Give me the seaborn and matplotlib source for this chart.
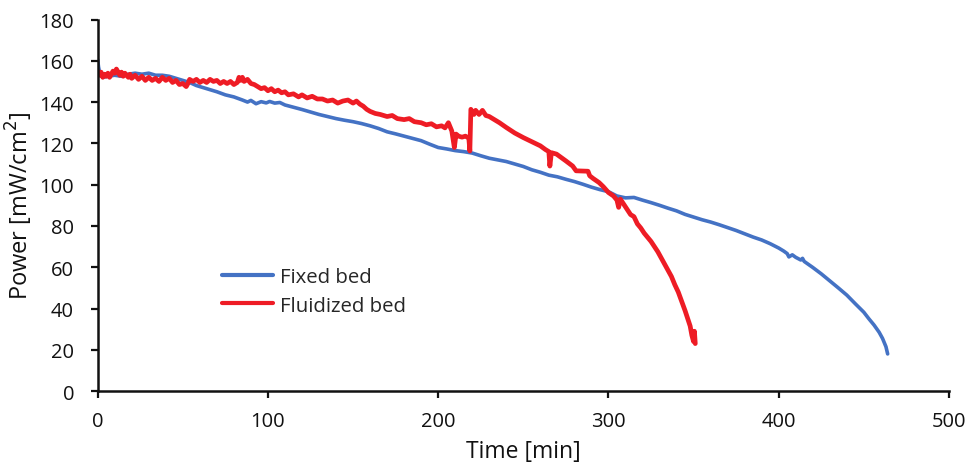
import numpy as np
import pandas as pd
import seaborn as sns
import matplotlib
matplotlib.use("Agg")
import matplotlib.pyplot as plt
from matplotlib.lines import Line2D

# Fixed bed power density over time
fixed_time = [0, 0.5, 1.5, 3, 6, 10, 14, 18, 22, 26, 30, 34, 38, 42, 46, 50, 54, 58, 62, 66,
              70, 75, 80, 85, 88, 90, 93, 96, 99, 101, 104, 107, 110, 115, 120, 125, 130, 135,
              140, 145, 150, 155, 160, 165, 170, 175, 180, 185, 190, 195, 200, 205, 210, 215,
              220, 225, 230, 235, 240, 245, 250, 255, 260, 265, 270, 275, 280, 285, 290, 295,
              300, 305, 310, 315, 320, 325, 330, 335, 340, 345, 350, 355, 360, 365, 370, 375,
              380, 385, 390, 395, 400, 403, 405, 406, 408, 410, 413, 414, 415, 420, 425, 430,
              435, 440, 445, 450, 453, 456, 459, 461, 463, 464]
fixed_power = [160.5, 157, 153, 152, 152.5, 153, 152.5, 153.5, 154, 153.5, 154, 153, 153, 152.5,
               151.5, 150.5, 149.5, 148, 147, 146, 145, 143.5, 142.5, 141, 140, 140.8, 139.2,
               140.2, 139.6, 140.3, 139.5, 139.8, 138.6, 137.5, 136.4, 135.2, 134, 133, 132,
               131.2, 130.5, 129.6, 128.5, 127.2, 125.6, 124.6, 123.5, 122.4, 121.3, 119.6, 118,
               117.3, 116.5, 116, 115.3, 114, 112.8, 112, 111.2, 110, 108.8, 107.2, 106, 104.6,
               103.8, 102.6, 101.5, 100.2, 98.8, 97.6, 96.6, 94.5, 93.6, 93.8, 92.5, 91.3, 90,
               88.6, 87.3, 85.6, 84.3, 83, 81.9, 80.6, 79.2, 77.8, 76.2, 74.6, 73.2, 71.4, 69.3,
               67.8, 66.6, 65, 66, 64.8, 63.5, 64.3, 62.8, 59.9, 56.8, 53.4, 50, 46.5, 42.3,
               38.2, 35, 32, 28.5, 25.5, 21.5, 18]

# Fluidized bed power density over time
fluid_time = [0, 1, 2, 3, 4, 5, 6, 7, 8, 9, 10, 11, 12, 13, 14, 15, 16, 17, 18, 19, 20, 22, 24,
              26, 28, 30, 32, 34, 36, 38, 40, 42, 44, 46, 48, 50, 52, 53, 54, 56, 58, 60, 62,
              64, 66, 68, 70, 72, 74, 76, 78, 80, 82, 83, 84, 85, 86, 88, 90, 92, 94, 96, 98,
              100, 102, 104, 106, 108, 110, 112, 115, 118, 120, 123, 126, 129, 132, 135, 138,
              141, 144, 147, 150, 152, 154, 156, 158, 160, 163, 166, 170, 173, 176, 180, 183,
              186, 190, 193, 196, 199, 202, 204, 206, 208, 209.5, 210.5, 212, 214, 216, 218,
              218.6, 219.2, 221, 222, 224, 226, 228, 230, 233, 236, 240, 245, 250, 255, 260,
              263, 265, 265.6, 266.5, 269.5, 272, 275, 279, 281, 284, 288, 289, 291, 294.5,
              297, 300, 303, 305, 306, 307, 309, 311, 313, 315, 317, 319, 321, 323, 325, 327,
              329, 331, 333, 335, 337, 339, 341, 343, 345, 347, 348, 349, 350, 350.5, 351]
fluid_power = [155, 153, 154.5, 152, 153.5, 152.5, 154, 152, 153.5, 155, 154, 156, 154.5, 153,
               154.5, 152.5, 154, 153, 152, 153.5, 151.5, 153, 151, 152.5, 150.5, 152, 150.5,
               151.5, 150, 152, 150.5, 151.5, 149.5, 150.5, 148.5, 149, 147.5, 149, 151, 150,
               151, 149.5, 150.5, 149.5, 151, 150, 150.5, 149, 150, 149, 150, 148.5, 149.5, 152,
               150.5, 152, 150, 151, 149, 148.5, 147.5, 146.5, 147, 145.5, 146.5, 145, 145.8,
               144.5, 145, 143.5, 144, 142.5, 143.5, 142, 142.8, 141.5, 141.5, 140.5, 141, 139.5,
               140.5, 141, 139.5, 140.5, 139, 138, 136.5, 135.5, 134.5, 134, 133, 133.5, 132,
               131.5, 132, 130.5, 130, 129, 129.5, 128, 128.5, 127.5, 130, 126, 118, 124.5,
               123.5, 123, 123.5, 122.5, 116.3, 136.5, 134, 136, 134, 136, 133.5, 133, 131.5,
               130, 127.7, 125, 122.8, 120.8, 118.8, 117, 116, 109, 115.5, 114.8, 113.3, 111.5,
               109, 106.7, 106.6, 106.5, 104.3, 103, 101, 99, 96.2, 94.5, 92.5, 89, 93, 90.5, 88,
               85.5, 84.5, 81, 79, 76.5, 74.5, 72.5, 70, 67.5, 64.5, 61.5, 58.5, 55.5, 51.5, 48,
               43.5, 39, 34, 31.5, 27, 24, 29, 23]

series_names = ["Fixed bed", "Fluidized bed"]
x_ticks = [0, 100, 200, 300, 400, 500]
y_ticks = [0, 20, 40, 60, 80, 100, 120, 140, 160, 180]

df = pd.concat([
    pd.DataFrame({"Time": fixed_time, "Power": fixed_power, "Bed": series_names[0]}),
    pd.DataFrame({"Time": fluid_time, "Power": fluid_power, "Bed": series_names[1]}),
], ignore_index=True)

sns.set_theme(style="ticks")
plt.rcParams["font.family"] = ["Open Sans", "DejaVu Sans"]

fig = plt.figure(figsize=(9.69, 4.64), dpi=100)
ax = fig.add_axes([0.1008, 0.155, 0.8785, 0.8008])

palette = {"Fixed bed": "#4472C4", "Fluidized bed": "#EE1C25"}
sns.lineplot(data=df, x="Time", y="Power", hue="Bed", hue_order=series_names,
             palette=palette, sort=False, estimator=None, ax=ax, linewidth=2.6,
             legend=False)
ax.lines[1].set_linewidth(3.4)
for ln in ax.lines:
    ln.set_solid_joinstyle("round")
    ln.set_solid_capstyle("round")

ax.set_xlim(0, 500)
ax.set_ylim(0, 180)
ax.set_xticks(x_ticks)
ax.set_yticks(y_ticks)
ax.tick_params(axis="both", labelsize=14.5, colors="#111111", length=5, width=1.6,
               direction="out")
ax.tick_params(axis="x", pad=9)
ax.tick_params(axis="y", pad=12)
for side in ["left", "bottom"]:
    ax.spines[side].set_color("#111111")
    ax.spines[side].set_linewidth(1.8)
for side in ["top", "right"]:
    ax.spines[side].set_visible(False)

ax.set_xlabel("Time [min]", fontsize=16.5, color="#111111", labelpad=6)
ax.set_ylabel("Power [mW/cm$^2$]", fontsize=17, color="#111111", labelpad=3)

handles = [Line2D([], [], color=palette[n], linewidth=3) for n in series_names]
ax.legend(handles, series_names, loc="center left", bbox_to_anchor=(0.146, 0.268),
          frameon=False, fontsize=14.7, handlelength=2.5, handletextpad=0.35,
          labelspacing=0.4, borderpad=0, borderaxespad=0)

fig.savefig("out.png", dpi=100)
